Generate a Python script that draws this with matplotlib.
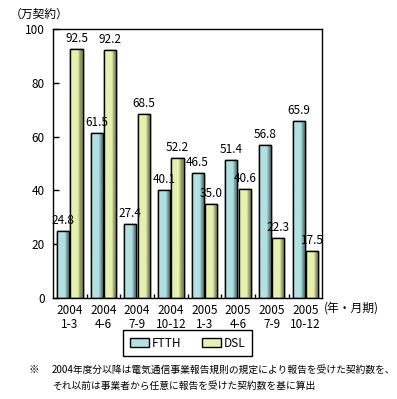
import numpy as np
import matplotlib
matplotlib.use("Agg")
import matplotlib.pyplot as plt
from matplotlib.colors import LinearSegmentedColormap
from matplotlib.patches import Patch

plt.rcParams["font.family"] = ["Noto Sans CJK JP", "DejaVu Sans"]
plt.rcParams["font.size"] = 8.5

# ── Data ────────────────────────────────────────────────────────────────
years = ["2004", "2004", "2004", "2004", "2005", "2005", "2005", "2005"]
quarters = ["1-3", "4-6", "7-9", "10-12", "1-3", "4-6", "7-9", "10-12"]
ftth = [24.8, 61.5, 27.4, 40.1, 46.5, 51.4, 56.8, 65.9]
dsl = [92.5, 92.2, 68.5, 52.2, 35.0, 40.6, 22.3, 17.5]

FTTH_C = "#b3e1e1"
FTTH_D = "#5f8c8c"
DSL_C = "#e5f1b1"
DSL_D = "#8c9455"

fig = plt.figure(figsize=(3.97, 3.99), dpi=100)
ax = fig.add_axes([0.1335, 0.253, 0.678, 0.674])

x = np.arange(len(years))
w = 0.36
off = 0.2


def shaded_bars(xpos, vals, light, dark):
    cmap = LinearSegmentedColormap.from_list(
        "s", [(0, light), (0.6, light), (0.82, dark), (1.0, dark)])
    grad = np.linspace(0, 1, 64).reshape(1, -1)
    bars = ax.bar(xpos, vals, w, color=light, edgecolor="black", linewidth=1.0, zorder=2)
    for b in bars:
        x0, y0 = b.get_x(), b.get_y()
        im = ax.imshow(grad, cmap=cmap, aspect="auto", zorder=2.5,
                       extent=(x0, x0 + b.get_width(), y0, y0 + b.get_height()))
        im.set_clip_path(b)
    ax.bar(xpos, vals, w, facecolor="none", edgecolor="black", linewidth=1.0, zorder=3)
    for xi, v in zip(xpos, vals):
        ax.text(xi, v + 1.5, f"{v:.1f}", ha="center", va="bottom", fontsize=8.5, zorder=4)


shaded_bars(x - off, ftth, FTTH_C, FTTH_D)
shaded_bars(x + off, dsl, DSL_C, DSL_D)

ax.set_xlim(-0.5, len(years) - 0.5)
ax.set_ylim(0, 100)
ax.set_yticks(range(0, 101, 20))
ax.tick_params(axis="y", direction="in", length=4, width=1, pad=6, labelsize=8.5)
ax.set_xticks(x)
ax.set_xticklabels([f"{a}\n{b}" for a, b in zip(years, quarters)], fontsize=8.5,
                   linespacing=1.1)
ax.tick_params(axis="x", length=0, pad=4)
ax.set_xticks(x[:-1] + 0.5, minor=True)
ax.tick_params(axis="x", which="minor", direction="in", length=3, width=1)
for s in ax.spines.values():
    s.set_linewidth(1.0)
    s.set_color("black")

fig.text(0.025, 0.965, "（万契約）", fontsize=8.5, va="center", ha="left")
fig.text(0.815, 0.228, "(年・月期)", fontsize=8.5, va="center", ha="left")

handles = [Patch(facecolor=FTTH_C, edgecolor="black", label="FTTH"),
           Patch(facecolor=DSL_C, edgecolor="black", label="DSL")]
leg = fig.legend(handles=handles, loc="center", bbox_to_anchor=(0.473, 0.14), ncol=2,
                 fancybox=False, edgecolor="black", framealpha=1, fontsize=8.5,
                 handlelength=1.6, handleheight=0.9, columnspacing=1.8,
                 borderpad=0.55, handletextpad=0.25)
leg.get_frame().set_linewidth(1.0)

fig.text(0.072, 0.073, "※", fontsize=7.5, va="center", ha="left")
fig.text(0.13, 0.073, "2004年度分以降は電気通信事業報告規則の規定により報告を受けた契約数を、",
         fontsize=7, va="center", ha="left")
fig.text(0.13, 0.033, "それ以前は事業者から任意に報告を受けた契約数を基に算出",
         fontsize=7, va="center", ha="left")

fig.savefig("out.png", dpi=100)
